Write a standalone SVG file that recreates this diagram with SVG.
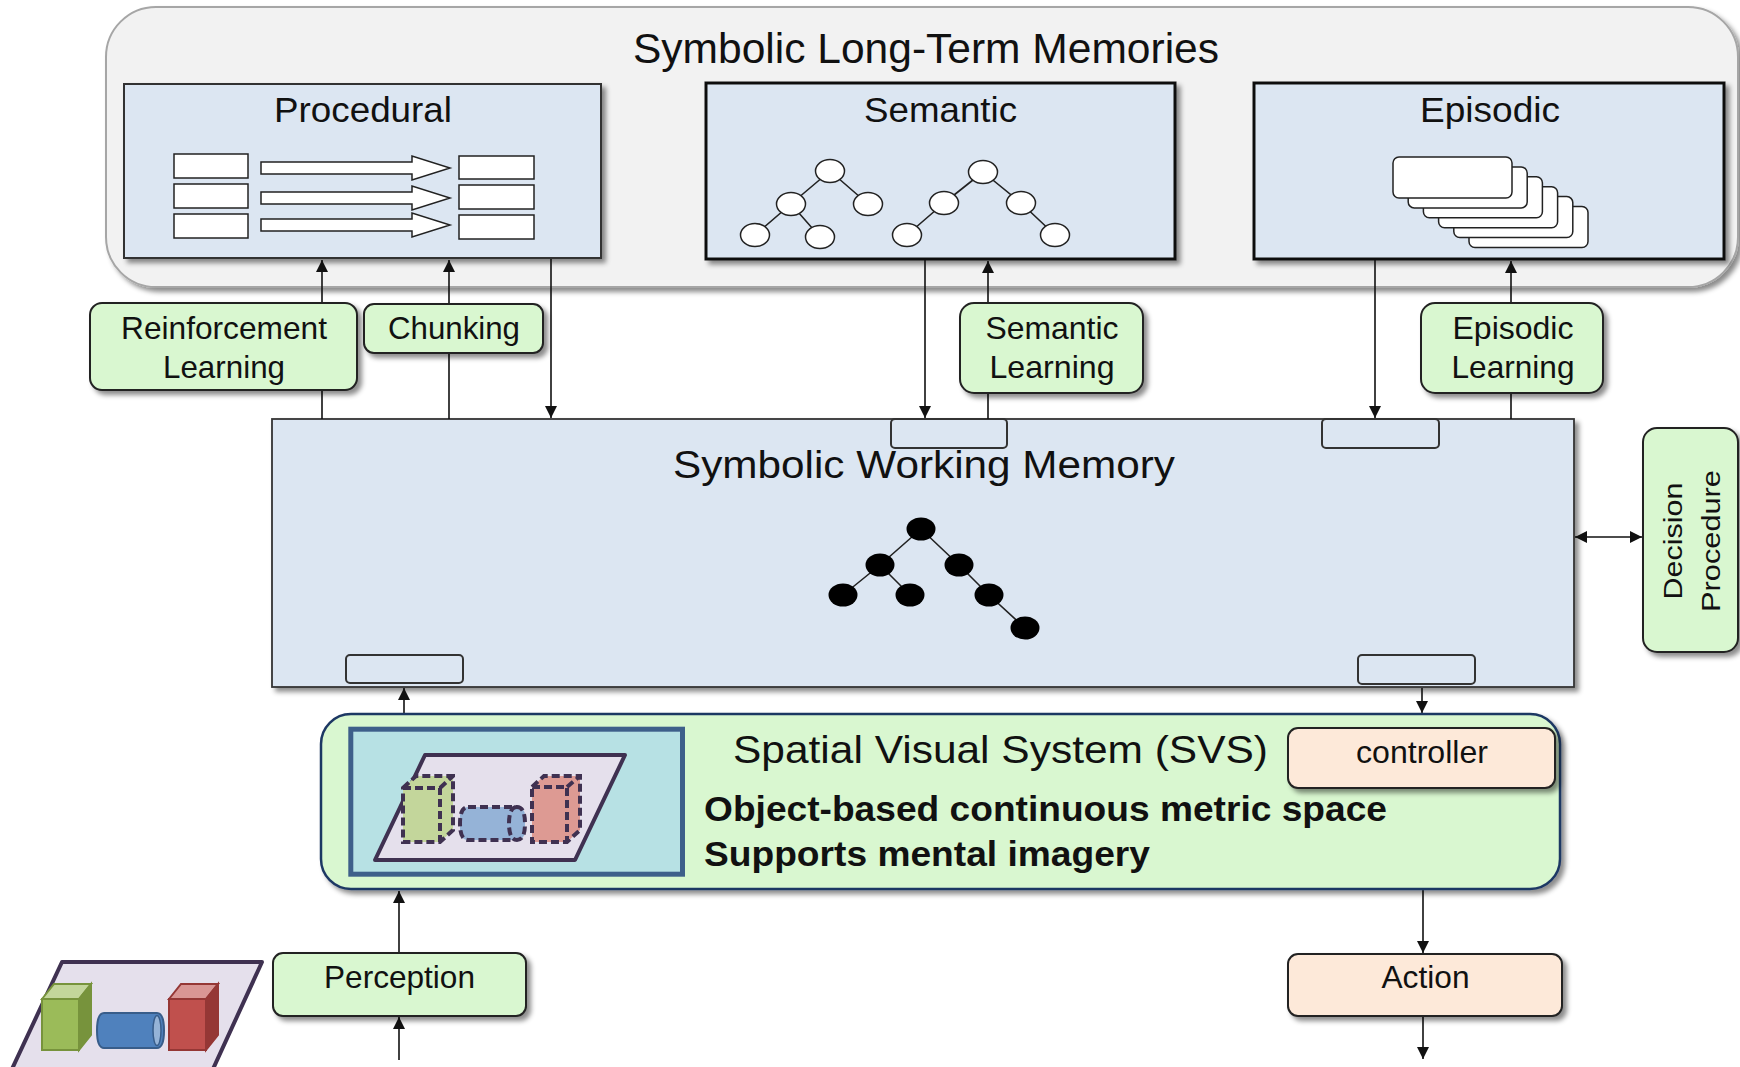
<svg xmlns="http://www.w3.org/2000/svg" width="1740" height="1067" viewBox="0 0 1740 1067">
  <defs>
    <filter id="shadow" x="-10%" y="-10%" width="130%" height="140%">
      <feDropShadow dx="4" dy="4" stdDeviation="2.5" flood-color="#000" flood-opacity="0.45"/>
    </filter>
    <marker id="arrow" viewBox="0 0 10 10" refX="10" refY="5" markerUnits="userSpaceOnUse" markerWidth="13" markerHeight="12" orient="auto-start-reverse">
      <path d="M0,0 L10,5 L0,10 z" fill="#111"/>
    </marker>
    <style>
      text { font-family: "Liberation Sans", Arial, Helvetica, sans-serif; fill: #111; }
      .ltm { fill: #f2f2f2; stroke: #a6a6a6; stroke-width: 2; }
      .mem { fill: #dce6f2; stroke: #333; stroke-width: 2; }
      .memb { fill: #dce6f2; stroke: #111; stroke-width: 3; }
      .port { fill: #dce6f2; stroke: #333; stroke-width: 2; }
      .green { fill: #d9f7d0; stroke: #222; stroke-width: 2; }
      .peach { fill: #fde9d9; stroke: #222; stroke-width: 2; }
      .wbox { fill: #fff; stroke: #222; stroke-width: 1.5; }
      .wnode { fill: #fff; stroke: #222; stroke-width: 1.5; }
      .bnode { fill: #000; }
      .edge { stroke: #222; stroke-width: 1.6; fill: none; }
      .conn { stroke: #111; stroke-width: 1.6; fill: none; }
      .plane { fill: #e5e0ec; stroke: #3f3151; stroke-width: 4; stroke-linejoin: round; }
      .dash { stroke: #3f3151; stroke-width: 4; stroke-dasharray: 8 4; fill: none; }
      .t42 { font-size: 42px; }
      .t38 { font-size: 38px; }
      .t35 { font-size: 35px; }
      .t31 { font-size: 30.5px; }
      .bold { font-size: 35px; font-weight: bold; }
    </style>
  </defs>

  <!-- Long-term memory container -->
  <g id="ltm">
    <rect class="ltm" x="106" y="7" width="1632" height="280" rx="50" filter="url(#shadow)"/>
    <text class="t42" x="633" y="63" textLength="586" lengthAdjust="spacingAndGlyphs">Symbolic Long-Term Memories</text>
  </g>

  <!-- Procedural memory -->
  <g id="procedural">
    <rect class="mem" x="124" y="84" width="477" height="174" filter="url(#shadow)"/>
    <text class="t35" x="274" y="122" textLength="178" lengthAdjust="spacingAndGlyphs">Procedural</text>
    <rect class="wbox" x="174" y="154" width="74" height="24"/>
    <rect class="wbox" x="174" y="184" width="74" height="24"/>
    <rect class="wbox" x="174" y="214" width="74" height="24"/>
    <rect class="wbox" x="459" y="156" width="75" height="23"/>
    <rect class="wbox" x="459" y="185" width="75" height="24"/>
    <rect class="wbox" x="459" y="215" width="75" height="24"/>
    <path class="wbox" d="M261,162 H412 V156 L450,168 L412,180 V174 H261 Z"/>
    <path class="wbox" d="M261,192 H412 V186 L450,198 L412,210 V204 H261 Z"/>
    <path class="wbox" d="M261,219 H412 V213 L450,225 L412,237 V231 H261 Z"/>
  </g>

  <!-- Semantic memory -->
  <g id="semantic">
    <rect class="memb" x="706" y="83" width="469" height="176" filter="url(#shadow)"/>
    <text class="t35" x="864" y="122" textLength="153" lengthAdjust="spacingAndGlyphs">Semantic</text>
    <path class="edge" d="M830,171 L791,204 M830,171 L868,204 M791,204 L755,235 M791,204 L820,237"/>
    <path class="edge" d="M983,172 L944,203 M983,172 L1021,203 M944,203 L907,235 M1021,203 L1055,235"/>
    <ellipse class="wnode" cx="830" cy="171" rx="14.5" ry="11.5"/>
    <ellipse class="wnode" cx="791" cy="204" rx="14.5" ry="11.5"/>
    <ellipse class="wnode" cx="868" cy="204" rx="14.5" ry="11.5"/>
    <ellipse class="wnode" cx="755" cy="235" rx="14.5" ry="11.5"/>
    <ellipse class="wnode" cx="820" cy="237" rx="14.5" ry="11.5"/>
    <ellipse class="wnode" cx="983" cy="172" rx="14.5" ry="11.5"/>
    <ellipse class="wnode" cx="944" cy="203" rx="14.5" ry="11.5"/>
    <ellipse class="wnode" cx="1021" cy="203" rx="14.5" ry="11.5"/>
    <ellipse class="wnode" cx="907" cy="235" rx="14.5" ry="11.5"/>
    <ellipse class="wnode" cx="1055" cy="235" rx="14.5" ry="11.5"/>
  </g>

  <!-- Episodic memory -->
  <g id="episodic">
    <rect class="memb" x="1254" y="83" width="470" height="176" filter="url(#shadow)"/>
    <text class="t35" x="1420" y="122" textLength="140" lengthAdjust="spacingAndGlyphs">Episodic</text>
    <rect class="wbox" x="1469" y="206.5" width="119" height="41" rx="6"/>
    <rect class="wbox" x="1453.8" y="196.6" width="119" height="41" rx="6"/>
    <rect class="wbox" x="1438.6" y="186.7" width="119" height="41" rx="6"/>
    <rect class="wbox" x="1423.4" y="176.8" width="119" height="41" rx="6"/>
    <rect class="wbox" x="1408.2" y="166.9" width="119" height="41" rx="6"/>
    <rect class="wbox" x="1393" y="157" width="119" height="41" rx="6"/>
  </g>

  <!-- Working memory -->
  <g id="working-memory">
    <rect x="272" y="419" width="1302" height="268" fill="#dce6f2" stroke="#333" stroke-width="1.8" filter="url(#shadow)"/>
    <text class="t38" x="673" y="478" textLength="502" lengthAdjust="spacingAndGlyphs">Symbolic Working Memory</text>
    <path class="edge" d="M921,529 L880,565 M921,529 L959,565 M880,565 L843,595 M880,565 L910,595 M959,565 L989,595 M989,595 L1025,628"/>
    <ellipse class="bnode" cx="921" cy="529" rx="14.5" ry="11.5"/>
    <ellipse class="bnode" cx="880" cy="565" rx="14.5" ry="11.5"/>
    <ellipse class="bnode" cx="959" cy="565" rx="14.5" ry="11.5"/>
    <ellipse class="bnode" cx="843" cy="595" rx="14.5" ry="11.5"/>
    <ellipse class="bnode" cx="910" cy="595" rx="14.5" ry="11.5"/>
    <ellipse class="bnode" cx="989" cy="595" rx="14.5" ry="11.5"/>
    <ellipse class="bnode" cx="1025" cy="628" rx="14.5" ry="11.5"/>
    <rect class="port" x="891" y="419" width="116" height="29" rx="4"/>
    <rect class="port" x="1322" y="419" width="117" height="29" rx="4"/>
    <rect class="port" x="346" y="655" width="117" height="28" rx="4"/>
    <rect class="port" x="1358" y="655" width="117" height="29" rx="4"/>
  </g>

  <!-- Connectors -->
  <g id="connectors">
    <line class="conn" x1="322" y1="419" x2="322" y2="260" marker-end="url(#arrow)"/>
    <line class="conn" x1="449" y1="419" x2="449" y2="260" marker-end="url(#arrow)"/>
    <line class="conn" x1="551" y1="259" x2="551" y2="418" marker-end="url(#arrow)"/>
    <line class="conn" x1="925" y1="260" x2="925" y2="418" marker-end="url(#arrow)"/>
    <line class="conn" x1="988" y1="419" x2="988" y2="261" marker-end="url(#arrow)"/>
    <line class="conn" x1="1375" y1="260" x2="1375" y2="418" marker-end="url(#arrow)"/>
    <line class="conn" x1="1511" y1="419" x2="1511" y2="261" marker-end="url(#arrow)"/>
    <line class="conn" x1="1575" y1="537" x2="1642" y2="537" marker-start="url(#arrow)" marker-end="url(#arrow)"/>
    <line class="conn" x1="404" y1="714" x2="404" y2="688" marker-end="url(#arrow)"/>
    <line class="conn" x1="1422" y1="688" x2="1422" y2="713" marker-end="url(#arrow)"/>
    <line class="conn" x1="399" y1="953" x2="399" y2="891" marker-end="url(#arrow)"/>
    <line class="conn" x1="399" y1="1060" x2="399" y2="1017" marker-end="url(#arrow)"/>
    <line class="conn" x1="1423" y1="890" x2="1423" y2="953" marker-end="url(#arrow)"/>
    <line class="conn" x1="1423" y1="1017" x2="1423" y2="1059" marker-end="url(#arrow)"/>
  </g>

  <!-- Learning mechanisms -->
  <g id="reinforcement-learning">
    <rect class="green" x="90" y="303" width="267" height="87" rx="12" filter="url(#shadow)"/>
    <text class="t31" x="224" y="339" text-anchor="middle" textLength="206" lengthAdjust="spacingAndGlyphs">Reinforcement</text>
    <text class="t31" x="224" y="378" text-anchor="middle" textLength="122" lengthAdjust="spacingAndGlyphs">Learning</text>
  </g>
  <g id="chunking">
    <rect class="green" x="364" y="304" width="179" height="49" rx="10" filter="url(#shadow)"/>
    <text class="t31" x="454" y="339" text-anchor="middle" textLength="132" lengthAdjust="spacingAndGlyphs">Chunking</text>
  </g>
  <g id="semantic-learning">
    <rect class="green" x="960" y="303" width="183" height="90" rx="14" filter="url(#shadow)"/>
    <text class="t31" x="1052" y="339" text-anchor="middle" textLength="133" lengthAdjust="spacingAndGlyphs">Semantic</text>
    <text class="t31" x="1052" y="378" text-anchor="middle" textLength="125" lengthAdjust="spacingAndGlyphs">Learning</text>
  </g>
  <g id="episodic-learning">
    <rect class="green" x="1421" y="303" width="182" height="90" rx="14" filter="url(#shadow)"/>
    <text class="t31" x="1513" y="339" text-anchor="middle" textLength="121" lengthAdjust="spacingAndGlyphs">Episodic</text>
    <text class="t31" x="1513" y="378" text-anchor="middle" textLength="123" lengthAdjust="spacingAndGlyphs">Learning</text>
  </g>

  <!-- Decision procedure -->
  <g id="decision-procedure">
    <rect class="green" x="1643" y="428" width="95" height="224" rx="14" filter="url(#shadow)"/>
    <text x="1682" y="541" font-size="26" text-anchor="middle" transform="rotate(-90 1682 541)" textLength="117" lengthAdjust="spacingAndGlyphs">Decision</text>
    <text x="1720" y="541" font-size="26" text-anchor="middle" transform="rotate(-90 1720 541)" textLength="142" lengthAdjust="spacingAndGlyphs">Procedure</text>
  </g>

  <!-- Spatial visual system -->
  <g id="svs">
    <rect x="321" y="714" width="1239" height="175" rx="30" fill="#d9f7d0" stroke="#1f3864" stroke-width="2.5" filter="url(#shadow)"/>
    <rect x="350.8" y="729.2" width="331.7" height="145" fill="#b7e1e4" stroke="#3e5f8a" stroke-width="5"/>
    <polygon class="plane" points="425,755 625,755 575,860 375,860"/>
    <!-- imagined objects, dashed outlines -->
    <polygon points="403,788 416,776 453,776 453,830 440,842 403,842" fill="#c3d69b"/>
    <path class="dash" d="M403,788 L416,776 H453 V830 L440,842 H403 Z M403,788 H440 V842 M440,788 L453,776"/>
    <rect x="460" y="807" width="65" height="33" rx="8" fill="#95b3d7"/>
    <path class="dash" d="M468,807 H517 Q525,807 525,823.5 Q525,840 517,840 H468 Q460,840 460,823.5 Q460,807 468,807 Z M517,807 Q509,807 509,823.5 Q509,840 517,840"/>
    <polygon points="532,787 544,776 580,776 580,830 567,842 532,842" fill="#dd9a93"/>
    <path class="dash" d="M532,787 L544,776 H580 V830 L567,842 H532 Z M532,787 H567 V842 M567,787 L580,776"/>
    <text class="t38" x="733" y="763" textLength="535" lengthAdjust="spacingAndGlyphs">Spatial Visual System (SVS)</text>
    <text class="bold" x="704" y="821" textLength="683" lengthAdjust="spacingAndGlyphs">Object-based continuous metric space</text>
    <text class="bold" x="704" y="866" textLength="446" lengthAdjust="spacingAndGlyphs">Supports mental imagery</text>
  </g>
  <g id="controller">
    <rect class="peach" x="1288" y="728" width="267" height="60" rx="10" filter="url(#shadow)"/>
    <text class="t31" x="1422" y="763" text-anchor="middle" textLength="132" lengthAdjust="spacingAndGlyphs">controller</text>
  </g>

  <!-- Perception and action -->
  <g id="perception">
    <rect class="green" x="273" y="953" width="253" height="63" rx="10" filter="url(#shadow)"/>
    <text class="t31" x="399.5" y="988" text-anchor="middle" textLength="151" lengthAdjust="spacingAndGlyphs">Perception</text>
  </g>
  <g id="action">
    <rect class="peach" x="1288" y="954" width="274" height="62" rx="10" filter="url(#shadow)"/>
    <text class="t31" x="1425.5" y="988" text-anchor="middle" textLength="88" lengthAdjust="spacingAndGlyphs">Action</text>
  </g>

  <!-- External world -->
  <g id="world">
    <polygon class="plane" points="62,962 262,962 213,1069 12,1069"/>
    <!-- green box -->
    <polygon points="42,999 54,984 91,984 79,999" fill="#c3d69b" stroke="#77933c" stroke-width="2"/>
    <polygon points="79,999 91,984 91,1035 79,1050" fill="#77933c" stroke="#77933c" stroke-width="2"/>
    <rect x="42" y="999" width="37" height="51" fill="#9bbb59" stroke="#77933c" stroke-width="2"/>
    <!-- blue cylinder -->
    <path d="M104,1013 H157 Q164,1013 164,1030.5 Q164,1048 157,1048 H104 Q97,1048 97,1030.5 Q97,1013 104,1013 Z" fill="#4f81bd" stroke="#385d8a" stroke-width="2"/>
    <ellipse cx="157" cy="1030.5" rx="4" ry="15" fill="#95b3d7" stroke="#385d8a" stroke-width="1.5"/>
    <!-- red box -->
    <polygon points="169,999 181,984 218,984 206,999" fill="#d99694" stroke="#953735" stroke-width="2"/>
    <polygon points="206,999 218,984 218,1035 206,1050" fill="#953735" stroke="#953735" stroke-width="2"/>
    <rect x="169" y="999" width="37" height="51" fill="#c0504d" stroke="#953735" stroke-width="2"/>
  </g>
</svg>
